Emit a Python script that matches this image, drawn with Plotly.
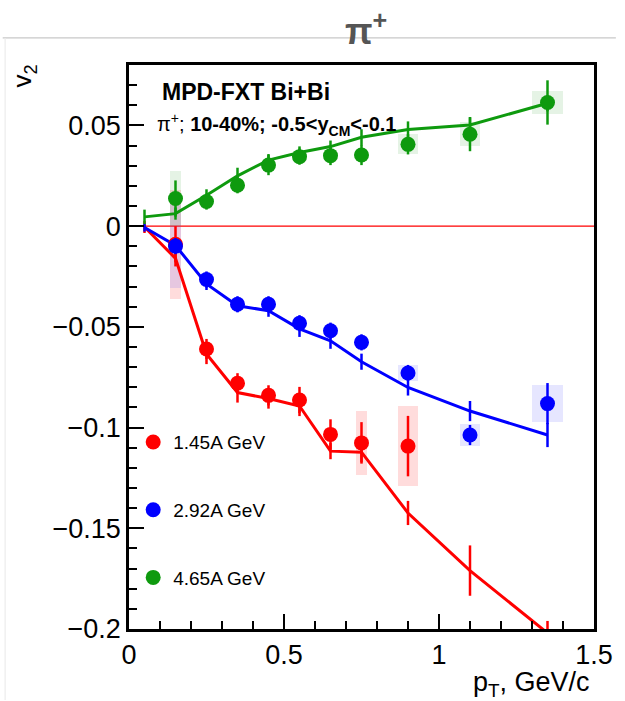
import plotly.graph_objects as go
import numpy as np

# ---------------- data ----------------
energies = ["1.45A GeV", "2.92A GeV", "4.65A GeV"]

# measured points (pT bin centres)
pt_data = [0.15, 0.25, 0.35, 0.45, 0.55, 0.65, 0.75, 0.9, 1.1, 1.35]
bin_edges = [0.1, 0.2, 0.3, 0.4, 0.5, 0.6, 0.7, 0.8, 1.0, 1.2, 1.5]

v2_red = [-0.009, -0.061, -0.078, -0.084, -0.0863, -0.1034, -0.1076, -0.1092]
stat_red = [0.009, 0.005, 0.005, 0.005, 0.0065, 0.0075, 0.0103, 0.015]
syst_red = [0.027, 0.003, 0.003, 0.003, 0.003, 0.003, 0.0157, 0.020]

v2_blue = [-0.0099, -0.0265, -0.0388, -0.0388, -0.0482, -0.0519, -0.0577, -0.0729, -0.1037, -0.0881]
stat_blue = [0.004, 0.004, 0.004, 0.004, 0.004, 0.004, 0.004, 0.004, 0.005, 0.0102]
syst_blue = [0.021, 0.003, 0.003, 0.003, 0.003, 0.003, 0.003, 0.004, 0.0055, 0.009]

v2_green = [0.0137, 0.0122, 0.0203, 0.0303, 0.0345, 0.035, 0.0353, 0.0406, 0.0456, 0.0614]
stat_green = [0.009, 0.004, 0.004, 0.005, 0.004, 0.0047, 0.005, 0.005, 0.0084, 0.011]
syst_green = [0.0137, 0.003, 0.003, 0.003, 0.003, 0.003, 0.003, 0.005, 0.006, 0.0055]

# model curves
pt_model = [0.05, 0.15, 0.25, 0.35, 0.45, 0.55, 0.65, 0.75, 0.9, 1.1, 1.35]
model_red = [-0.0004, -0.016, -0.0635, -0.0826, -0.0856, -0.0893, -0.1117, -0.1122, -0.1424, -0.171, -0.202]
model_red_err = [0.003, 0.004, 0.005, 0.005, 0.005, 0.005, 0.004, 0.005, 0.006, 0.0125, 0.006]
model_blue = [-0.0007, -0.0096, -0.0287, -0.0395, -0.042, -0.051, -0.0569, -0.0673, -0.0801, -0.0918, -0.1037]
model_blue_err = [0.002, 0.003, 0.003, 0.003, 0.003, 0.004, 0.004, 0.004, 0.004, 0.005, 0.006]
model_green = [0.0046, 0.0062, 0.0153, 0.025, 0.0328, 0.0366, 0.0395, 0.0441, 0.048, 0.0502, 0.061]
model_green_err = [0.0036, 0.003, 0.003, 0.004, 0.003, 0.003, 0.003, 0.004, 0.004, 0.004, 0.004]

x_tickvals = [0, 0.5, 1, 1.5]
x_ticktext = ["0", "0.5", "1", "1.5"]
y_tickvals = [0.05, 0, -0.05, -0.1, -0.15, -0.2]
y_ticktext = ["0.05", "0", "\u22120.05", "\u22120.1", "\u22120.15", "\u22120.2"]

# ---------------- styling ----------------
FONT = "Liberation Sans, Arial, Helvetica, sans-serif"
colors = ["#ff0000", "#0000ff", "#0e9a0e"]
box_colors = ["rgba(255,60,60,0.18)", "rgba(60,60,255,0.13)", "rgba(40,160,40,0.12)"]

box_w = list(np.diff(bin_edges) / 3.0)

series = [
    (v2_red, stat_red, syst_red, model_red, model_red_err),
    (v2_blue, stat_blue, syst_blue, model_blue, model_blue_err),
    (v2_green, stat_green, syst_green, model_green, model_green_err),
]

fig = go.Figure()

# systematic boxes
for (v, st, sy, m, me), c, bc in zip(series, colors, box_colors):
    n = len(v)
    fig.add_trace(go.Bar(
        x=pt_data[:n], y=[2 * s for s in sy], base=[a - s for a, s in zip(v, sy)],
        width=box_w[:n], marker=dict(color=bc, line=dict(width=0)),
        showlegend=False, hoverinfo="skip"))

# model curves
for (v, st, sy, m, me), c in zip(series, colors):
    fig.add_trace(go.Scatter(
        x=pt_model, y=m, mode="lines",
        line=dict(color=c, width=3),
        error_y=dict(type="data", array=me, color=c, thickness=2.5, width=0),
        showlegend=False, hoverinfo="skip"))

# data points
for (v, st, sy, m, me), c, name in zip(series, colors, energies):
    n = len(v)
    fig.add_trace(go.Scatter(
        x=pt_data[:n], y=v, mode="markers", name=name,
        marker=dict(color=c, size=15, symbol="circle"),
        error_y=dict(type="data", array=st, color=c, thickness=2.5, width=0),
        legendgroup=name))

fig.update_layout(
    width=625, height=701,
    margin=dict(l=129, r=23, t=65, b=72),
    paper_bgcolor="white", plot_bgcolor="white",
    barmode="overlay", bargap=0,
    font=dict(family=FONT, color="black"),
    showlegend=True,
    legend=dict(
        x=0.009, y=0.365, xanchor="left", yanchor="top",
        font=dict(family=FONT, size=19, color="black"),
        bgcolor="rgba(0,0,0,0)", tracegroupgap=40,
        itemsizing="trace"),
    xaxis=dict(
        range=[0, 1.5], tickvals=x_tickvals, ticktext=x_ticktext,
        ticks="inside", ticklen=15, tickwidth=2, tickcolor="black",
        minor=dict(dtick=0.1, ticks="inside", ticklen=8, tickwidth=2, tickcolor="black"),
        showline=True, linecolor="black", linewidth=2.5, mirror=True,
        showgrid=False, zeroline=False, ticklabeloverflow="allow",
        tickfont=dict(family=FONT, size=27, color="black")),
    yaxis=dict(
        range=[-0.2, 0.08], tickvals=y_tickvals, ticktext=y_ticktext,
        ticks="inside", ticklen=15, tickwidth=2, tickcolor="black",
        minor=dict(dtick=0.01, ticks="inside", ticklen=8, tickwidth=2, tickcolor="black"),
        showline=True, linecolor="black", linewidth=2.5, mirror=True,
        showgrid=False, zeroline=False, ticklabeloverflow="allow",
        tickfont=dict(family=FONT, size=27, color="black")),
    shapes=[
        dict(type="line", xref="x", yref="y", x0=0, x1=1.5, y0=0, y1=0,
             line=dict(color="#ff0000", width=1.2), layer="below"),
        dict(type="line", xref="paper", yref="paper", x0=-0.2716, x1=1.047,
             y0=1.048, y1=1.048, line=dict(color="#c8c8c8", width=1.2), layer="below"),
        dict(type="line", xref="paper", yref="paper", x0=-0.2664, x1=-0.2664,
             y0=1.048, y1=-0.126, line=dict(color="#ececec", width=1.2), layer="below"),
    ],
    annotations=[
        dict(text="<b>\u03c0<sup>+</sup></b>", xref="paper", yref="paper",
             x=0.5095, y=1.064, xanchor="center", yanchor="middle", showarrow=False,
             font=dict(family=FONT, size=36, color="#555555")),
        dict(text="<b>MPD-FXT Bi+Bi</b>", xref="paper", yref="paper",
             x=0.066, y=0.952, xanchor="left", yanchor="middle", showarrow=False,
             font=dict(family=FONT, size=23, color="black")),
        dict(text="\u03c0<sup>+</sup>; <b>10-40%; -0.5&lt;y<sub>CM</sub>&lt;-0.1</b>",
             xref="paper", yref="paper",
             x=0.056, y=0.895, xanchor="left", yanchor="middle", showarrow=False,
             font=dict(family=FONT, size=20, color="black")),
        dict(text="v<sub>2</sub>", xref="paper", yref="paper", textangle=-90,
             x=-0.226, y=1.005, xanchor="center", yanchor="top", showarrow=False,
             font=dict(family=FONT, size=26, color="black")),
        dict(text="p<sub>T</sub>, GeV/c", xref="paper", yref="paper",
             x=0.996, y=-0.097, xanchor="right", yanchor="middle", showarrow=False,
             font=dict(family=FONT, size=27, color="black")),
    ],
)

# remove the default 8px page margin so the 625x701 figure fills the window
fig.write_html("out.html",
               config={"displayModeBar": False},
               post_script="document.body.style.margin='0';document.body.style.overflow='hidden';")
